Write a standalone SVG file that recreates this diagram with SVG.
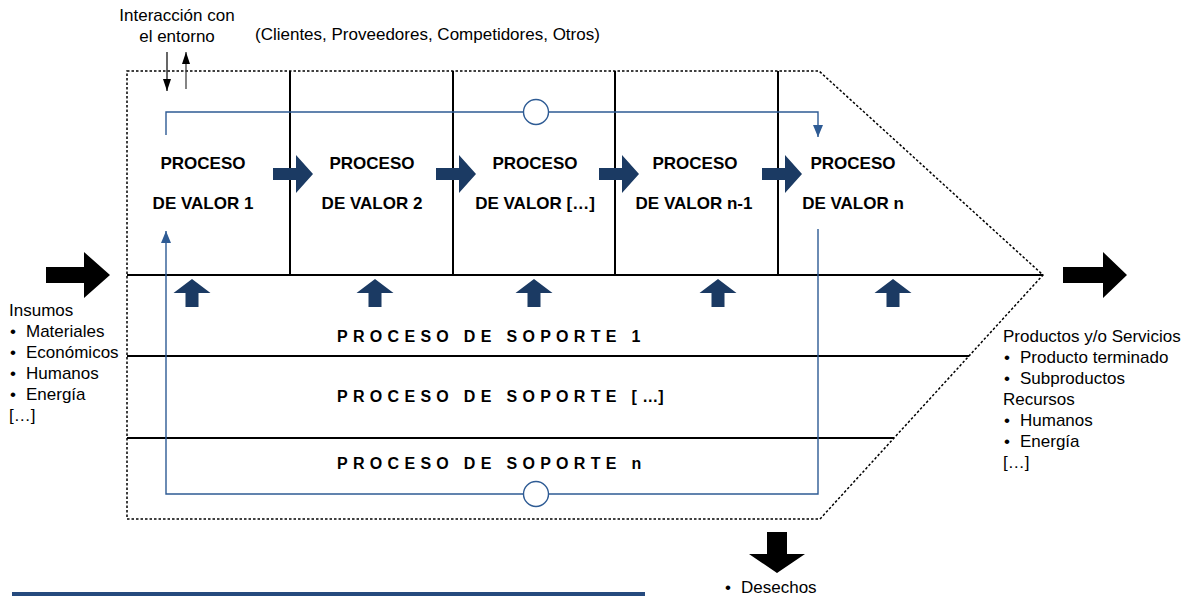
<svg xmlns="http://www.w3.org/2000/svg" width="1190" height="596" viewBox="0 0 1190 596">
<style>
text{font-family:"Liberation Sans",Arial,sans-serif;fill:#000}
.t{font-size:17px}
.vb{font-size:17px;font-weight:bold;text-anchor:middle}
.sp{font-size:16px;font-weight:bold;letter-spacing:5.3px}
.blk{stroke:#000;stroke-width:2;fill:none}
.dot{stroke:#000;stroke-width:1.5;fill:none;stroke-dasharray:2.5 2}
.blue{stroke:#2e5b94;stroke-width:1.4;fill:none}
.navy{fill:#1b3a63}
.mid{text-anchor:middle}
</style>
<defs>
<polygon id="ha" points="0,-6 23,-6 23,-19 40,0 23,19 23,6 0,6"/>
<polygon id="ua" points="-6.5,14 -6.5,0 -18.5,0 0,-14 18.5,0 6.5,0 6.5,14"/>
<marker id="mb" markerUnits="userSpaceOnUse" markerWidth="12" markerHeight="14" viewBox="0 0 12 14" refX="12" refY="5" orient="auto">
<path d="M0,0 L12,5 L0,10 Z" fill="#2e5b94"/>
</marker>
<marker id="mk" markerUnits="userSpaceOnUse" markerWidth="12" markerHeight="10" viewBox="0 0 12 10" refX="12" refY="4" orient="auto">
<path d="M0,0 L12,4 L0,8 Z" fill="#000"/>
</marker>
</defs>

<g id="frame">
<path class="dot" d="M127,71 H819 L1043,275 L820,519 H127 Z"/>
<path class="blk" d="M127,275 H1043 M127,356 H969 M127,438 H894 M290,71 V275 M453,71 V275 M615,71 V275 M778,71 V275"/>
</g>

<g id="connectors">
<path class="blue" d="M166,135 V112 H818 V137" marker-end="url(#mb)"/>
<path class="blue" d="M818,229 V494 H166 V231" marker-end="url(#mb)"/>
<circle cx="536" cy="112" r="12.5" fill="#fff" stroke="#2e5b94" stroke-width="1.4"/>
<circle cx="536" cy="494" r="12.5" fill="#fff" stroke="#2e5b94" stroke-width="1.4"/>
<use href="#ha" class="navy" transform="translate(273,174)"/>
<use href="#ha" class="navy" transform="translate(436,174)"/>
<use href="#ha" class="navy" transform="translate(599,174)"/>
<use href="#ha" class="navy" transform="translate(762,174)"/>
<use href="#ua" class="navy" transform="translate(192,293)"/>
<use href="#ua" class="navy" transform="translate(375,293)"/>
<use href="#ua" class="navy" transform="translate(534,293)"/>
<use href="#ua" class="navy" transform="translate(718,293)"/>
<use href="#ua" class="navy" transform="translate(893,293)"/>
<line x1="167" y1="52" x2="167" y2="91" stroke="#000" stroke-width="1.2" marker-end="url(#mk)"/>
<line x1="186" y1="89" x2="186" y2="52" stroke="#333" stroke-width="1.2" marker-end="url(#mk)"/>
<polygon points="46,267 84,267 84,252 110,275 84,298 84,283 46,283" fill="#000"/>
<polygon points="1063,267 1103,267 1103,252 1127,275 1103,298 1103,283 1063,283" fill="#000"/>
<polygon points="767,532 787,532 787,554 805,554 777,573 749,554 767,554" fill="#000"/>
</g>

<g id="interaccion">
<text class="t mid" x="177" y="21">Interacción con</text>
<text class="t mid" x="177" y="42">el entorno</text>
<text class="t" x="255" y="40">(Clientes, Proveedores, Competidores, Otros)</text>
</g>

<g id="valor1"><text class="vb" x="203" y="169">PROCESO</text><text class="vb" x="203" y="209">DE VALOR 1</text></g>
<g id="valor2"><text class="vb" x="372" y="169">PROCESO</text><text class="vb" x="372" y="209">DE VALOR 2</text></g>
<g id="valor3"><text class="vb" x="535" y="169">PROCESO</text><text class="vb" x="535" y="209">DE VALOR […]</text></g>
<g id="valor4"><text class="vb" x="695" y="169">PROCESO</text><text class="vb" x="694" y="209">DE VALOR n-1</text></g>
<g id="valor5"><text class="vb" x="853" y="169">PROCESO</text><text class="vb" x="853" y="209">DE VALOR n</text></g>

<g id="soporte1"><text class="sp" x="337" y="342">PROCESO DE SOPORTE 1</text></g>
<g id="soporte2"><text class="sp" x="337" y="402">PROCESO DE SOPORTE [<tspan letter-spacing="0">…</tspan>]</text></g>
<g id="soporten"><text class="sp" x="337" y="469">PROCESO DE SOPORTE n</text></g>

<g id="insumos">
<text class="t" x="9" y="316">Insumos</text>
<text class="t" x="10" y="337">•</text><text class="t" x="26" y="337">Materiales</text>
<text class="t" x="10" y="358">•</text><text class="t" x="26" y="358">Económicos</text>
<text class="t" x="10" y="379">•</text><text class="t" x="26" y="379">Humanos</text>
<text class="t" x="10" y="400">•</text><text class="t" x="26" y="400">Energía</text>
<text class="t" x="9" y="421">[…]</text>
</g>

<g id="productos">
<text class="t" x="1003" y="342">Productos y/o Servicios</text>
<text class="t" x="1004" y="363">•</text><text class="t" x="1020" y="363">Producto terminado</text>
<text class="t" x="1004" y="384">•</text><text class="t" x="1020" y="384">Subproductos</text>
<text class="t" x="1003" y="405">Recursos</text>
<text class="t" x="1004" y="426">•</text><text class="t" x="1020" y="426">Humanos</text>
<text class="t" x="1004" y="447">•</text><text class="t" x="1020" y="447">Energía</text>
<text class="t" x="1003" y="468">[…]</text>
</g>

<g id="desechos">
<text class="t" x="725" y="593">•</text><text class="t" x="741" y="593">Desechos</text>
</g>

<rect x="12" y="592" width="633" height="4" fill="#254a7e"/>
</svg>
